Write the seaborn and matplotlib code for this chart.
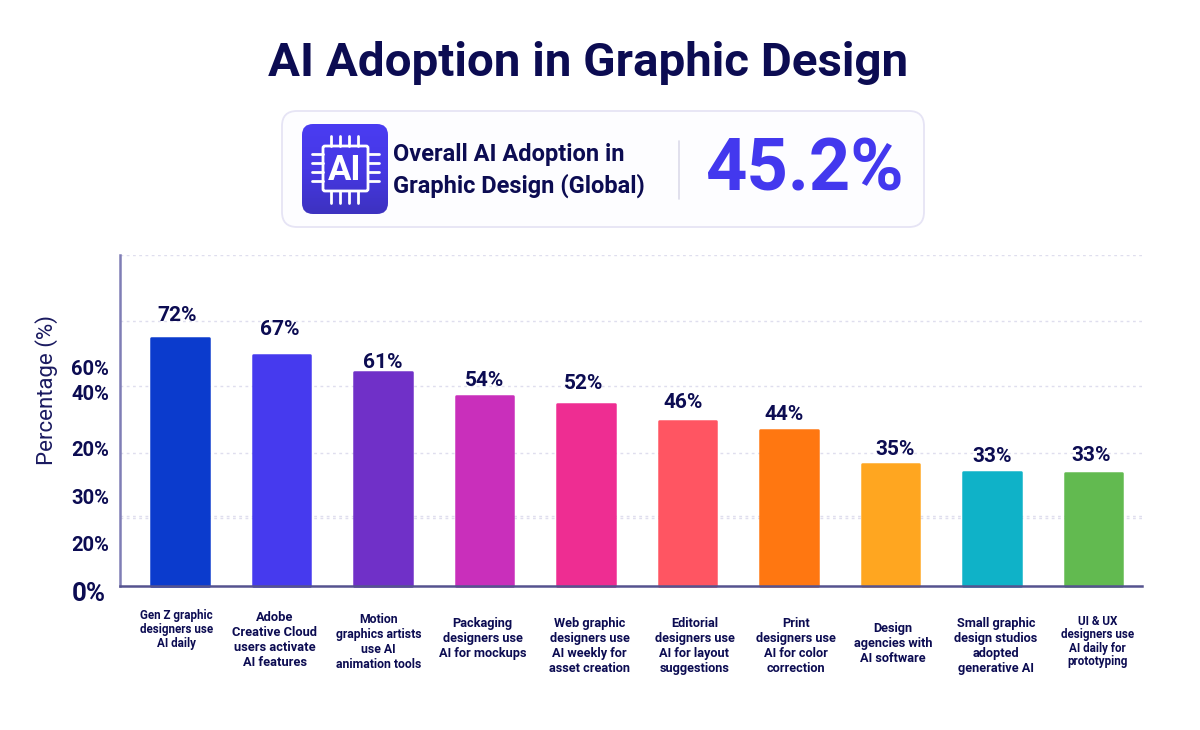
import numpy as np
import pandas as pd
import matplotlib
matplotlib.use('Agg')
import matplotlib.pyplot as plt
from matplotlib.patches import FancyBboxPatch
from matplotlib.transforms import ScaledTranslation
import seaborn as sns

# values
categories = ['Gen Z graphic\ndesigners use\nAI daily',
              'Adobe\nCreative Cloud\nusers activate\nAI features',
              'Motion\ngraphics artists\nuse AI\nanimation tools',
              'Packaging\ndesigners use\nAI for mockups',
              'Web graphic\ndesigners use\nAI weekly for\nasset creation',
              'Editorial\ndesigners use\nAI for layout\nsuggestions',
              'Print\ndesigners use\nAI for color\ncorrection',
              'Design\nagencies with\nAI software',
              'Small graphic\ndesign studios\nadopted\ngenerative AI',
              'UI & UX\ndesigners use\nAI daily for\nprototyping']
bar_heights = [71.9, 67.0, 62.0, 55.1, 52.8, 47.8, 45.2, 35.4, 33.0, 32.8]
bar_labels = ['72%', '67%', '61%', '54%', '52%', '46%', '44%', '35%', '33%', '33%']
bar_colors = ['#0b3bcd', '#463aee', '#7030c8', '#c92fbb', '#ee2d92',
              '#ff5562', '#ff7711', '#ffa620', '#0fb2c8', '#62ba50']
ytick_pos = [-1.7, 12.2, 26, 40, 56.2, 63.2]
ytick_labels = ['0%', '20%', '30%', '20%', '40%', '60%']
grid_pos = [96, 76.8, 58, 38.5, 20.3, 19.6]

NAVY = '#0c0c52'

sns.set_theme(style='white')
plt.rcParams['font.family'] = ['Roboto', 'DejaVu Sans']

fig = plt.figure(figsize=(12, 7.3), dpi=100, facecolor='white')

# background layer in pixel coordinates for title and summary card
bg = fig.add_axes([0, 0, 1, 1])
bg.set_xlim(0, 1200)
bg.set_ylim(730, 0)
bg.axis('off')

bg.text(588, 63, 'AI Adoption in Graphic Design', ha='center', va='center',
        fontsize=34.2, fontweight='bold', color=NAVY)

card = FancyBboxPatch((282, 111), 642, 116, boxstyle='round,pad=0,rounding_size=15',
                      fc='#fdfdff', ec='#e6e4f5', lw=1.3)
bg.add_patch(card)

# icon with vertical gradient
icon_box = FancyBboxPatch((302, 124), 86, 90, boxstyle='round,pad=0,rounding_size=11',
                          fc='none', ec='none')
bg.add_patch(icon_box)
grad = np.linspace(0, 1, 100).reshape(-1, 1)
cmap = matplotlib.colors.LinearSegmentedColormap.from_list('icon', ['#4a3cf2', '#4638e4', '#3d32c0'])
im = bg.imshow(grad, extent=(302, 388, 214, 124), cmap=cmap, aspect='auto', zorder=2)
im.set_clip_path(icon_box)
bg.set_xlim(0, 1200)
bg.set_ylim(730, 0)

chip = FancyBboxPatch((323, 146), 45, 45, boxstyle='round,pad=0,rounding_size=2',
                      fc='none', ec='white', lw=2, zorder=3)
bg.add_patch(chip)
for px in [331, 340, 349, 358]:
    bg.plot([px, px], [136, 146], color='white', lw=2, zorder=3)
    bg.plot([px, px], [191, 203], color='white', lw=2, zorder=3)
for py in [154, 163, 172, 181]:
    bg.plot([312, 323], [py, py], color='white', lw=2, zorder=3)
    bg.plot([368, 379], [py, py], color='white', lw=2, zorder=3)
bg.text(345, 170, 'AI', ha='center', va='center', color='white',
        fontsize=25, fontweight='bold', zorder=3)

bg.text(393, 155, 'Overall AI Adoption in', ha='left', va='center',
        fontsize=17, fontweight='bold', color=NAVY)
bg.text(393, 186, 'Graphic Design (Global)', ha='left', va='center',
        fontsize=17, fontweight='bold', color=NAVY)
bg.plot([679, 679], [141, 199], color='#dcdbea', lw=1.2)
bg.text(804, 171, '45.2%', ha='center', va='center',
        fontsize=52, fontweight='bold', color='#4338ee')

bg.text(47, 390, 'Percentage (%)', rotation=90, ha='center', va='center',
        fontsize=16, color='#1a1a60')

# bar chart
ax = fig.add_axes([120 / 1200, 1 - 596.35 / 730, 1022 / 1200, 341.55 / 730])
ax.patch.set_alpha(0)

df = pd.DataFrame({'category': categories, 'value': bar_heights})
sns.barplot(data=df, x='category', y='value', hue='category', palette=bar_colors,
            legend=False, width=0.565, saturation=1, ax=ax, zorder=3)

# rounded corners from a thick round-joined edge
for bar, col in zip(ax.patches, bar_colors):
    bar.set_edgecolor(col)
    bar.set_linewidth(1.8)
    bar.set_joinstyle('round')

ax.set_xlim(-0.591, 9.478)
ax.set_ylim(-3, 96)
ax.hlines(grid_pos, -0.591, 9.478, color='#dfdeee', lw=1, linestyles=(0, (2, 2.5)), zorder=1)

# spines first, set_position resets the ticks
for side in ['top', 'right']:
    ax.spines[side].set_visible(False)
ax.spines['left'].set_bounds(0, 96)
ax.spines['left'].set_color('#7f7db5')
ax.spines['left'].set_linewidth(1.8)
ax.spines['bottom'].set_position(('data', 0))
ax.spines['bottom'].set_color('#55538f')
ax.spines['bottom'].set_linewidth(1.8)
ax.spines['bottom'].set_zorder(4)

ax.set_xlabel('')
ax.set_ylabel('')
ax.set_yticks(ytick_pos)
ax.set_yticklabels(ytick_labels)
ax.tick_params(axis='both', length=0)
ax.tick_params(axis='y', pad=8)
for lab in ax.get_yticklabels():
    lab.set_fontsize(14.5)
    lab.set_fontweight('bold')
    lab.set_color(NAVY)
ax.get_yticklabels()[0].set_fontsize(18.5)
ax.yaxis.get_major_ticks()[0].set_pad(10)

# category labels: each sits at its own offset in the reference
label_dx = [-3.5, -6.5, -4.5, -2, 3.5, 7, 7, 2.5, 4, 4]
label_top = [609, 611, 613, 617, 617, 617, 617, 622, 617, 615]
label_size = [8.4, 9.3, 8.8, 9.2, 9.2, 9.2, 9.2, 9.2, 9.2, 8.4]
label_gap = [1.09, 1.2, 1.2, 1.2, 1.2, 1.2, 1.2, 1.2, 1.2, 1.04]
ax.set_xticks(range(len(categories)))
ax.set_xticklabels(categories)
for tick, dx, top, fs, gap in zip(ax.xaxis.get_major_ticks(), label_dx, label_top, label_size, label_gap):
    tick.set_pad((top - 586) * 0.72)
    lab = tick.label1
    lab.set_transform(lab.get_transform() + ScaledTranslation(dx * 0.01, 0, fig.dpi_scale_trans))
    lab.set_fontsize(fs)
    lab.set_fontweight('bold')
    lab.set_color(NAVY)
    lab.set_linespacing(gap)
    lab.set_ha('center')

# value labels above the bars
value_dx = [-3, -1.5, -0.5, 0, -2.5, -4, -4.5, 4.5, 0, -2]
value_dy = [22, 25, 10, 15, 20, 19, 16, 14, 16, 17]
for i, (h, txt) in enumerate(zip(bar_heights, bar_labels)):
    ax.annotate(txt, (i, h), xytext=(value_dx[i], value_dy[i]), textcoords='offset pixels',
                ha='center', va='center', fontsize=15, fontweight='bold', color=NAVY)

fig.savefig('out.png', dpi=100)
